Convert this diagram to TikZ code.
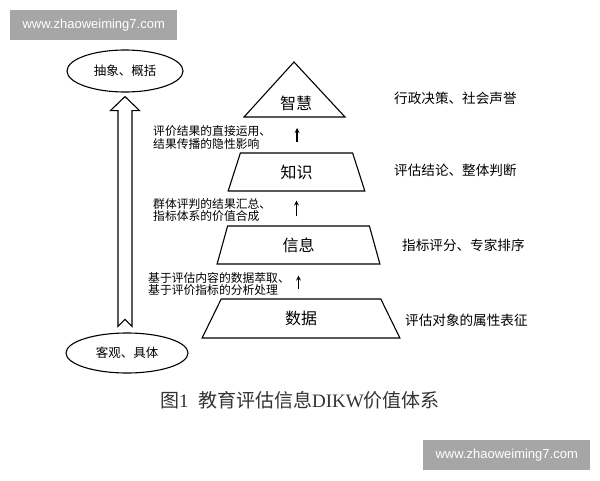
\documentclass[tikz,border=0pt]{standalone}
\usepackage{fontspec}
\setmainfont{Liberation Serif}
\newfontfamily\hei{Noto Sans CJK SC}
\newfontfamily\wmfont{Liberation Sans}
\usepackage{tikz}
\usetikzlibrary{shapes.geometric, arrows, calc}
\tikzstyle{arrow} = [line width=1.2pt,->,>=stealth]
\tikzstyle{layer} = [draw, line width=1.1pt, trapezium, trapezium stretches, inner sep=0pt, font=\hei\fontsize{16}{16}\selectfont]
\tikzstyle{note} = [anchor=west, align=left, inner sep=0pt, font=\hei\fontsize{11.8}{12.6}\selectfont]
\tikzstyle{side} = [anchor=west, inner sep=0pt, font=\hei\fontsize{13.6}{14}\selectfont]
\tikzstyle{pole} = [draw, ellipse, line width=1.1pt, inner sep=0pt, font=\hei\fontsize{12.5}{13}\selectfont]
\tikzstyle{wmark} = [fill=gray!70, text=white, anchor=north west, minimum width=167pt, minimum height=30pt, inner sep=0pt, font=\wmfont\fontsize{13}{14}\selectfont]

\begin{document}
\begin{tikzpicture}[x=1pt, y=-1pt]
            \path[fill=white] (0,0) rectangle (600,480);
            \useasboundingbox (0,0) rectangle (600,480);
            \node[wmark] (wmtop) at (10,10) {www.zhaoweiming7.com};
            \node[wmark] (wmbottom) at (423,440) {www.zhaoweiming7.com};
            \node[pole, minimum width=116pt, minimum height=42pt] (abstract) at (125,71) {抽象、概括};
            \node[pole, minimum width=122pt, minimum height=40pt] (concrete) at (127,353) {客观、具体};
            \coordinate (tip) at ($(abstract.south)+(0,4)$);
            \coordinate (tail) at ($(concrete.north)+(0,-13)$);
            \draw[line width=1.1pt, line join=miter] (tip) -- ++(14.5,14) -- ++(-7.5,0) -- ($(tip |- tail)+(7,7)$) -- (tip |- tail) -- ($(tip |- tail)+(-7,7)$) -- ($(tip)+(-7,14)$) -- ++(-7.5,0) -- cycle;
            \draw[line width=1.1pt] (244,117) -- (294,62) -- (345,117) -- cycle;
            \node[font=\hei\fontsize{16}{16}\selectfont] (wisdom) at (296,103) {智慧};
            \coordinate (wbase) at (297,117);
            \node[layer, trapezium left angle=76.7, trapezium right angle=76.7, minimum width=137pt, minimum height=38pt] (know) at (296.5,172) {知识};
            \node[layer, trapezium left angle=81, trapezium right angle=81, minimum width=163pt, minimum height=38pt] (info) at (298.5,245) {信息};
            \node[layer, trapezium left angle=75.5, trapezium right angle=75.5, minimum width=198pt, minimum height=39pt] (data) at (301,318.5) {数据};
            \draw[arrow, shorten <=10pt, shorten >=11pt] (wbase |- know.north) -- (wbase);
            \draw[arrow, shorten <=9pt, shorten >=9pt] (know.south |- info.north) -- (know.south);
            \draw[arrow, shorten <=9pt, shorten >=11pt] (info.south |- data.north) -- (info.south);
            \node[note] (usage) at (153,137.5) {评价结果的直接运用、\\结果传播的隐性影响};
            \node[note] (merge) at (153,210) {群体评判的结果汇总、\\指标体系的价值合成};
            \node[note] (extract) at (148,284) {基于评估内容的数据萃取、\\基于评价指标的分析处理};
            \node[side] (policy) at (394,98) {行政决策、社会声誉};
            \node[side] (verdict) at (394,170) {评估结论、整体判断};
            \node[side] (score) at (402,245) {指标评分、专家排序};
            \node[side] (attr) at (405,320) {评估对象的属性表征};
            \node[text=black!80, font=\fontsize{19}{20}\selectfont] (caption) at (300,400) {{\hei 图}1\enspace{\hei 教育评估信息}DIKW{\hei 价值体系}};
        \end{tikzpicture}
\end{document}
